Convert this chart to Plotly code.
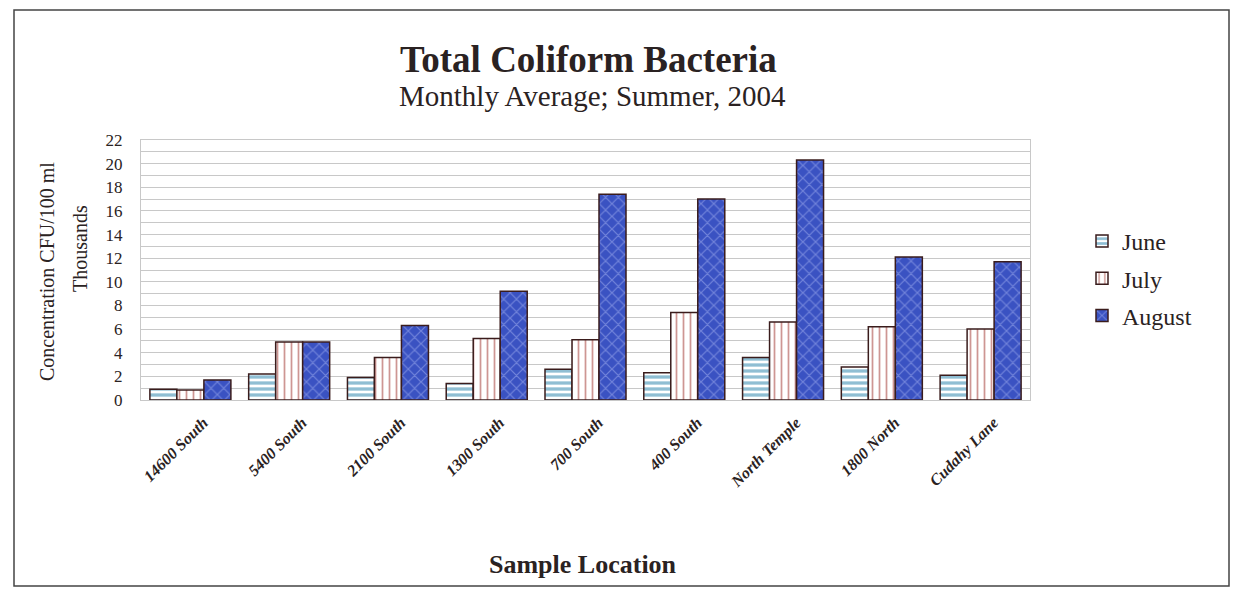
import plotly.graph_objects as go

locations = ["14600 South", "5400 South", "2100 South", "1300 South", "700 South",
             "400 South", "North Temple", "1800 North", "Cudahy Lane"]
june = [0.9, 2.2, 1.9, 1.4, 2.6, 2.3, 3.6, 2.8, 2.1]
july = [0.85, 4.9, 3.6, 5.2, 5.1, 7.4, 6.6, 6.2, 6.0]
august = [1.7, 4.9, 6.3, 9.2, 17.4, 17.0, 20.3, 12.1, 11.7]
y_ticks = list(range(0, 23, 2))

W, H = 1233, 591
L, R, T, B = 141, 1233 - 1030, 140, 591 - 400
pw, ph = W - L - R, H - T - B

def px(x):
    return (x - L) / pw

def py(y):
    return (H - B - y) / ph

FONT = "Liberation Serif"
TXT = "#2a2222"
OUT = "#3a1c1c"

fig = go.Figure()
fig.add_trace(go.Bar(
    name="June", x=locations, y=june, legendgroup="a",
    marker=dict(color="white", line=dict(color=OUT, width=1.5),
                pattern=dict(shape="-", fgcolor="#1f7ea8", bgcolor="white",
                             size=6, solidity=0.55, fillmode="overlay")),
))
fig.add_trace(go.Bar(
    name="July", x=locations, y=july, legendgroup="b",
    marker=dict(color="white", line=dict(color=OUT, width=1.5),
                pattern=dict(shape="|", fgcolor="#9e2e28", bgcolor="white",
                             size=7, solidity=0.25, fillmode="overlay")),
))
fig.add_trace(go.Bar(
    name="August", x=locations, y=august, legendgroup="c",
    marker=dict(color="#3a52c2", line=dict(color=OUT, width=1.5),
                pattern=dict(shape="x", fgcolor="#a9b6f2", bgcolor="#3a52c2",
                             size=9, solidity=0.25, fillmode="overlay")),
))

fig.update_layout(
    width=W, height=H, autosize=False,
    margin=dict(l=L, r=R, t=T, b=B),
    paper_bgcolor="white", plot_bgcolor="white",
    barmode="group", bargap=0.18, bargroupgap=0,
    font=dict(family=FONT, color=TXT),
    showlegend=True,
    legend=dict(x=px(1082), y=py(219), xanchor="left", yanchor="top",
                font=dict(family=FONT, size=24, color=TXT),
                tracegroupgap=3, bgcolor="rgba(0,0,0,0)"),
    xaxis=dict(tickangle=-45, tickfont=dict(family=FONT, size=16, style="italic",
                                            weight="bold", color=TXT),
               showgrid=False, showline=True, linecolor="#c8c8c8", mirror=True,
               ticks="", ticklen=0, ticklabelshift=13, ticklabelstandoff=6),
    yaxis=dict(range=[0, 22], tickvals=y_ticks, ticktext=[str(v) for v in y_ticks],
               tickfont=dict(family=FONT, size=17, color=TXT),
               showgrid=True, gridcolor="#c8c8c8", gridwidth=1,
               minor=dict(dtick=1, showgrid=True, gridcolor="#c8c8c8", gridwidth=1),
               showline=True, linecolor="#c8c8c8", mirror=True,
               zeroline=False, ticks="", ticklabelstandoff=14),
)

anns = [
    dict(text="<b>Total Coliform Bacteria</b>", x=px(588), y=py(59), size=37),
    dict(text="Monthly Average; Summer, 2004", x=px(592), y=py(96), size=29),
    dict(text="<b>Sample Location</b>", x=px(583), y=py(564), size=26),
]
for a in anns:
    fig.add_annotation(text=a["text"], x=a["x"], y=a["y"], xref="paper", yref="paper",
                       showarrow=False, xanchor="center", yanchor="middle",
                       font=dict(family=FONT, size=a["size"], color=TXT))
fig.add_annotation(text="Concentration CFU/100 ml", x=px(47), y=py(272), xref="paper",
                   yref="paper", showarrow=False, textangle=-90, xanchor="center",
                   yanchor="middle", font=dict(family=FONT, size=20, color=TXT))
fig.add_annotation(text="Thousands", x=px(80), y=py(249), xref="paper",
                   yref="paper", showarrow=False, textangle=-90, xanchor="center",
                   yanchor="middle", font=dict(family=FONT, size=20, color=TXT))

fig.add_shape(type="rect", xref="paper", yref="paper",
              x0=px(14), x1=px(1229), y0=py(586), y1=py(10),
              line=dict(color="#444444", width=1.5), fillcolor="rgba(0,0,0,0)", layer="below")

fig.write_html("out.html", config={"displayModeBar": False},
               post_script="document.body.style.margin='0';document.body.style.overflow='hidden';")
